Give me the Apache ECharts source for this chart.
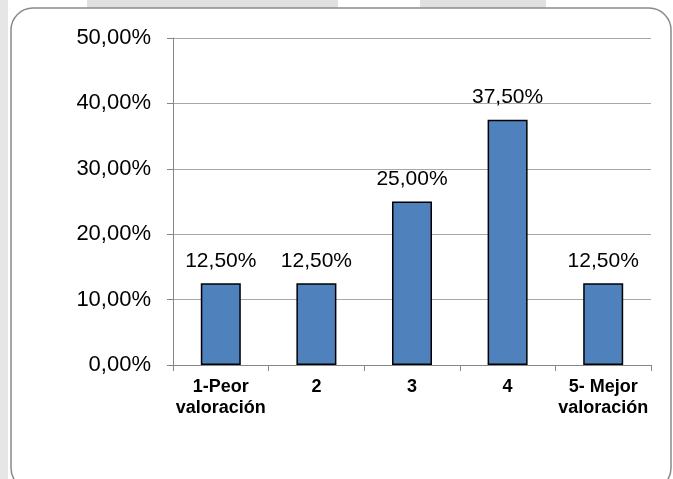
<!DOCTYPE html>
<html>
<head>
<meta charset="utf-8">
<script src="https://cdn.jsdelivr.net/npm/echarts@6/dist/echarts.min.js"></script>
<style>html,body{margin:0;padding:0;background:#fff}#c{width:673px;height:479px}</style>
</head>
<body>
<div id="c"></div>
<script>
const categories = ['1-Peor\nvaloración', '2', '3', '4', '5- Mejor\nvaloración'];
const values = [12.5, 12.5, 25.0, 37.5, 12.5];
const yTicks = [0, 10, 20, 30, 40, 50];

const fmt = v => v.toFixed(2).replace('.', ',') + '%';

const chart = echarts.init(document.getElementById('c'), null, {renderer: 'canvas'});
chart.setOption({
  animation: false,
  backgroundColor: '#ffffff',
  textStyle: {fontFamily: 'Liberation Sans, Arial, sans-serif'},
  graphic: [
    {type: 'rect', z: -10, shape: {x: 0, y: 0, width: 8, height: 479}, style: {fill: '#e6e6e6'}},
    {type: 'rect', z: -10, shape: {x: 87, y: 0, width: 251, height: 8}, style: {fill: '#e0e0e0'}},
    {type: 'rect', z: -10, shape: {x: 420, y: 0, width: 126, height: 8}, style: {fill: '#e0e0e0'}},
    {type: 'rect', z: -9, shape: {x: 11, y: 8, width: 660, height: 482, r: 22},
      style: {fill: '#ffffff', stroke: '#8a8a8a', lineWidth: 1.5}}
  ],
  grid: {left: 173, right: 22, top: 38, bottom: 114, containLabel: false},
  xAxis: {
    type: 'category',
    data: categories,
    axisLine: {lineStyle: {color: '#868686', width: 1}},
    axisTick: {show: true, length: 6, alignWithLabel: false, lineStyle: {color: '#868686'}},
    axisLabel: {color: '#000', fontSize: 18, fontWeight: 'bold', lineHeight: 21, margin: 12, interval: 0}
  },
  yAxis: {
    type: 'value',
    min: 0, max: 50, interval: 10,
    axisLine: {show: true, lineStyle: {color: '#868686', width: 1}},
    axisTick: {show: true, length: 6, lineStyle: {color: '#868686'}},
    splitLine: {lineStyle: {color: '#a8a8a8', width: 1}},
    axisLabel: {color: '#000', fontSize: 22, margin: 22, formatter: v => fmt(v)}
  },
  series: [{
    type: 'bar',
    data: values,
    barWidth: 40,
    itemStyle: {color: '#4f81bd', borderColor: '#000', borderWidth: 1.5},
    label: {show: true, position: 'top', distance: 12, color: '#000', fontSize: 21,
      formatter: p => fmt(p.value)}
  }]
});
</script>
</body>
</html>
